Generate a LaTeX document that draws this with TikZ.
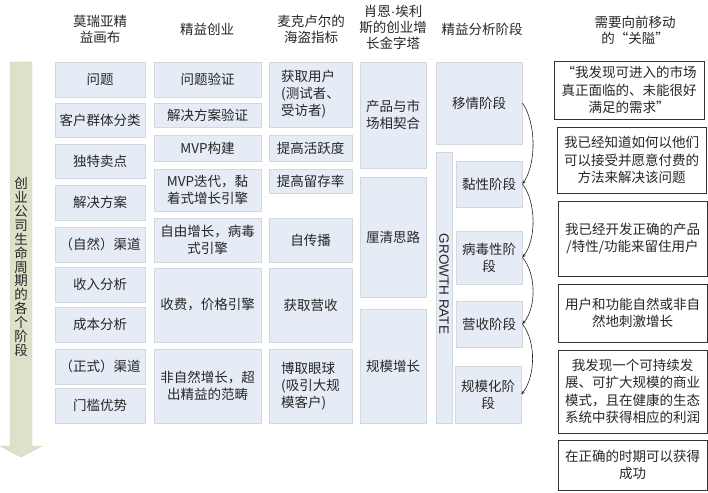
\documentclass[tikz,border=0pt]{standalone}
\usepackage{fontspec}
\setmainfont{Noto Sans CJK SC}
\newfontfamily\latinsans{Liberation Sans}
\usetikzlibrary{arrows.meta,calc}
\definecolor{bxfill}{HTML}{E6ECF5}
\definecolor{bxline}{HTML}{D3D8DF}
\definecolor{arrfill}{HTML}{DDE1C9}
\definecolor{arrline}{HTML}{CDD2B8}
\definecolor{txt}{HTML}{262626}
\begin{document}
\begin{tikzpicture}[x=1pt,y=-1pt,
  bx/.style={draw=bxline, fill=bxfill, line width=0.8pt, inner sep=0pt, align=center, text=txt,
    font=\fontsize{13.5}{17}\selectfont},
  rbx/.style={draw=black!80, fill=white, line width=0.8pt, inner sep=0pt, align=center, text=txt,
    font=\fontsize{13.5}{17.5}\selectfont},
  hdr/.style={inner sep=0pt, align=center, text=txt, font=\fontsize{13.5}{16}\selectfont},
  flow/.style={draw=black!85, line width=0.6pt, -{Stealth[length=3.5pt,width=3pt]}}
]
\useasboundingbox (0,0) rectangle (708,492);

% headers
\node[hdr] (h1) at (100,29) {莫瑞亚精\\益画布};
\node[hdr] (h2) at (207,29) {精益创业};
\node[hdr] (h3) at (311,29) {麦克卢尔的\\海盗指标};
\node[hdr] (h4) at (393,27.5) {肖恩{\latinsans ·}埃利\\斯的创业增\\长金字塔};
\node[hdr] (h5) at (482,29) {精益分析阶段};
\node[hdr] (h6) at (635,30) {需要向前移动\\的“关隘”};

% left arrow
\fill[arrfill, draw=arrline, line width=0.4pt] (10,62) -- (32,62) -- (32,446) -- (42,446) -- (21,457) -- (0,446) -- (10,446) -- cycle;
\node[inner sep=0pt, align=center, text=txt, font=\fontsize{13.5}{13.85}\selectfont] (life) at (21,267)
  {创\\业\\公\\司\\生\\命\\周\\期\\的\\各\\个\\阶\\段};

% column 1
\node[bx, minimum width=90pt, minimum height=35pt] (c1a) at (100,79.5) {问题};
\node[bx, minimum width=90pt, minimum height=34pt] (c1b) at (100,120) {客户群体分类};
\node[bx, minimum width=90pt, minimum height=34pt] (c1c) at (100,161) {独特卖点};
\node[bx, minimum width=90pt, minimum height=35pt] (c1d) at (100,202.5) {解决方案};
\node[bx, minimum width=90pt, minimum height=35pt] (c1e) at (100,244.5) {（自然）渠道};
\node[bx, minimum width=90pt, minimum height=35pt] (c1f) at (100,284.5) {收入分析};
\node[bx, minimum width=90pt, minimum height=35pt] (c1g) at (100,324.5) {成本分析};
\node[bx, minimum width=90pt, minimum height=35pt] (c1h) at (100,366.5) {（正式）渠道};
\node[bx, minimum width=90pt, minimum height=35pt] (c1i) at (100,405.5) {门槛优势};

% column 2
\node[bx, minimum width=107pt, minimum height=35pt] (c2a) at (207.5,79.5) {问题验证};
\node[bx, minimum width=107pt, minimum height=24pt] (c2b) at (207.5,115) {解决方案验证};
\node[bx, minimum width=107pt, minimum height=26pt] (c2c) at (207.5,148) {MVP构建};
\node[bx, minimum width=107pt, minimum height=42pt] (c2d) at (207.5,190) {MVP迭代，黏\\着式增长引擎};
\node[bx, minimum width=107pt, minimum height=44pt] (c2e) at (207.5,240) {自由增长，病毒\\式引擎};
\node[bx, minimum width=107pt, minimum height=74pt] (c2f) at (207.5,305) {收费，价格引擎};
\node[bx, minimum width=107pt, minimum height=74pt] (c2g) at (207.5,386) {非自然增长，超\\出精益的范畴};

% column 3
\node[bx, align=left, minimum width=83pt, minimum height=65pt] (c3a) at (310.5,94.5) {获取用户\\(测试者、\\受访者)};
\node[bx, minimum width=83pt, minimum height=26pt] (c3b) at (310.5,148) {提高活跃度};
\node[bx, minimum width=83pt, minimum height=24pt] (c3c) at (310.5,181) {提高留存率};
\node[bx, minimum width=83pt, minimum height=44pt] (c3d) at (310.5,240) {自传播};
\node[bx, minimum width=83pt, minimum height=74pt] (c3e) at (310.5,305) {获取营收};
\node[bx, align=left, minimum width=83pt, minimum height=74pt] (c3f) at (310.5,386) {博取眼球\\(吸引大规\\模客户)};

% column 4
\node[bx, minimum width=66pt, minimum height=106pt] (c4a) at (393,115) {产品与市\\场相契合};
\node[bx, minimum width=66pt, minimum height=120pt] (c4b) at (393,237) {厘清思路};
\node[bx, minimum width=66pt, minimum height=114pt] (c4c) at (393,366) {规模增长};

% column 5
\node[bx, minimum width=86pt, minimum height=82pt] (s1) at (479,103) {移情阶段};
\node[bx, minimum width=16pt, minimum height=271pt] (gr) at (444,287.5) {};
\node[inner sep=0pt, rotate=-90, text=txt, font=\latinsans\fontsize{13.5}{15}\selectfont] (grt) at (444,284) {GROWTH RATE};
\node[bx, minimum width=66pt, minimum height=46pt] (s2) at (489,184) {黏性阶段};
\node[bx, minimum width=66pt, minimum height=53pt] (s3) at (489,257.5) {病毒性阶\\段};
\node[bx, minimum width=66pt, minimum height=46pt] (s4) at (489,324) {营收阶段};
\node[bx, minimum width=66pt, minimum height=57pt] (s5) at (488,394.5) {规模化阶\\段};

\draw[flow] (s1.east) .. controls ($(s1.east)+(14,20)$) and ($(s2.east)+(14,-20)$) .. (s2.east);
\draw[flow] (s2.east) .. controls ($(s2.east)+(14,18)$) and ($(s3.east)+(14,-18)$) .. (s3.east);
\draw[flow] (s3.east) .. controls ($(s3.east)+(14,16)$) and ($(s4.east)+(14,-16)$) .. (s4.east);
\draw[flow] (s4.east) .. controls ($(s4.east)+(14,18)$) and ($(s5.east)+(14,-18)$) .. (s5.east);

% right column
\node[rbx, minimum width=150pt, minimum height=58pt] (r1) at (629,90) {“我发现可进入的市场\\真正面临的、未能很好\\满足的需求”};
\node[rbx, minimum width=149pt, minimum height=66pt] (r2) at (631.5,160) {我已经知道如何以他们\\可以接受并愿意付费的\\方法来解决该问题};
\node[rbx, minimum width=149pt, minimum height=75pt] (r3) at (632.5,238.5) {我已经开发正确的产品\\/特性/功能来留住用户};
\node[rbx, minimum width=149pt, minimum height=58pt] (r4) at (632.5,313) {用户和功能自然或非自\\然地刺激增长};
\node[rbx, minimum width=149pt, minimum height=83pt] (r5) at (632.5,391.5) {我发现一个可持续发\\展、可扩大规模的商业\\模式，且在健康的生态\\系统中获得相应的利润};
\node[rbx, minimum width=149pt, minimum height=50pt] (r6) at (632.5,465) {在正确的时期可以获得\\成功};

\end{tikzpicture}
\end{document}
